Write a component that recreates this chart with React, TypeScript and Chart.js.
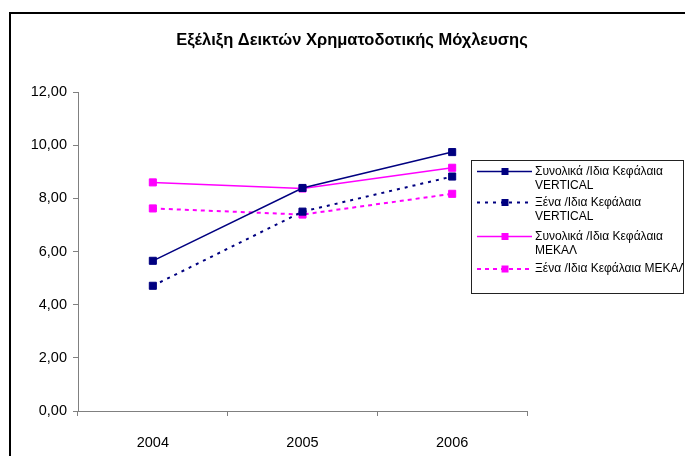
import React, { useEffect, useRef } from "react";
import { Chart, registerables } from "chart.js";

Chart.register(...registerables);

const chartTitle = "Εξέλιξη Δεικτών Χρηματοδοτικής Μόχλευσης";
const categories = ["2004", "2005", "2006"];
const seriesLabels = [
  ["Συνολικά /Ιδια Κεφάλαια", "VERTICAL"],
  ["Ξένα /Ιδια Κεφάλαια", "VERTICAL"],
  ["Συνολικά /Ιδια Κεφάλαια", "ΜΕΚΑΛ"],
  ["Ξένα /Ιδια Κεφάλαια ΜΕΚΑΛ"],
];
const totalVertical = [5.65, 8.39, 9.74];
const foreignVertical = [4.71, 7.5, 8.82];
const totalMekal = [8.6, 8.37, 9.15];
const foreignMekal = [7.62, 7.39, 8.17];
const yMin = 0;
const yMax = 12;
const yStep = 2;

const FONT = "'Liberation Sans', Arial, sans-serif";

const titlePlugin = {
  id: "customTitle",
  afterDraw(chart: any) {
    const ctx = chart.ctx;
    ctx.save();
    ctx.font = `bold 16.5px ${FONT}`;
    ctx.fillStyle = "#000";
    ctx.textAlign = "center";
    ctx.textBaseline = "middle";
    ctx.fillText(chartTitle, 352, 40);
    ctx.restore();
  },
};

const legendPlugin = {
  id: "customLegend",
  afterDraw(chart: any) {
    const ctx = chart.ctx;
    const box = { x: 471.5, y: 160.5, w: 212, h: 133 };
    const itemY = [171.5, 202.5, 236.5, 269];
    const lineGap = 14.5;
    ctx.save();
    ctx.fillStyle = "#fff";
    ctx.fillRect(box.x, box.y, box.w, box.h);
    ctx.strokeStyle = "#222";
    ctx.lineWidth = 1;
    ctx.strokeRect(box.x, box.y, box.w, box.h);
    ctx.beginPath();
    ctx.rect(box.x + 0.5, box.y + 0.5, box.w - 1, box.h - 1);
    ctx.clip();
    chart.data.datasets.forEach((ds: any, i: number) => {
      const y = itemY[i];
      ctx.save();
      ctx.strokeStyle = ds.borderColor;
      ctx.lineWidth = ds.borderWidth;
      ctx.setLineDash(ds.borderDash || []);
      ctx.beginPath();
      ctx.moveTo(477, y);
      ctx.lineTo(532, y);
      ctx.stroke();
      ctx.restore();
      ctx.fillStyle = ds.pointBackgroundColor;
      ctx.fillRect(505 - 3.5, y - 3.5, 7, 7);
      ctx.fillStyle = "#000";
      ctx.font = `12px ${FONT}`;
      ctx.textAlign = "left";
      ctx.textBaseline = "middle";
      seriesLabels[i].forEach((t, j) => {
        ctx.fillText(t, 535, y + j * lineGap);
      });
    });
    ctx.restore();
  },
};

export default function App() {
  const canvasRef = useRef<HTMLCanvasElement | null>(null);

  useEffect(() => {
    const canvas = canvasRef.current;
    if (!canvas) return;
    const mk = (label: string, data: number[], color: string, dash: number[] | undefined, width: number) => ({
      label,
      data,
      borderColor: color,
      backgroundColor: color,
      borderWidth: width,
      borderDash: dash,
      pointStyle: "rect",
      pointRadius: 5,
      pointBorderWidth: 1,
      pointBackgroundColor: color,
      pointBorderColor: color,
      tension: 0,
      fill: false,
    });
    const chart = new Chart(canvas, {
      type: "line",
      data: {
        labels: categories,
        datasets: [
          mk(seriesLabels[0].join(" "), totalVertical, "#000080", undefined, 1.5),
          mk(seriesLabels[1].join(" "), foreignVertical, "#000080", [3, 5], 2),
          mk(seriesLabels[2].join(" "), totalMekal, "#FF00FF", undefined, 1.5),
          mk(seriesLabels[3].join(" "), foreignMekal, "#FF00FF", [4, 4], 2),
        ] as any,
      },
      options: {
        animation: false,
        responsive: false,
        maintainAspectRatio: false,
        layout: { padding: { left: 0, top: 92, right: 158, bottom: 0 } },
        plugins: {
          legend: { display: false },
          title: { display: false },
          tooltip: { enabled: false },
        },
        scales: {
          x: {
            type: "category",
            offset: true,
            afterFit(scale: any) {
              scale.height = 45;
            },
            grid: {
              display: true,
              offset: true,
              drawOnChartArea: false,
              drawTicks: true,
              tickLength: 5,
              color: "#808080",
            },
            border: { display: true, color: "#808080", width: 1 },
            ticks: {
              color: "#000",
              padding: 18,
              font: { family: FONT, size: 14.5 },
              maxRotation: 0,
            },
          },
          y: {
            type: "linear",
            min: yMin,
            max: yMax,
            afterFit(scale: any) {
              scale.width = 78;
            },
            grid: {
              display: true,
              drawOnChartArea: false,
              drawTicks: true,
              tickLength: 5,
              color: "#808080",
            },
            border: { display: true, color: "#808080", width: 1 },
            ticks: {
              stepSize: yStep,
              color: "#000",
              padding: 6,
              font: { family: FONT, size: 14.5 },
              callback: (v: any) => Number(v).toFixed(2).replace(".", ","),
            },
          },
        },
      },
      plugins: [titlePlugin, legendPlugin],
    });
    return () => chart.destroy();
  }, []);

  return (
    <div
      style={{
        position: "fixed",
        left: 0,
        top: 0,
        width: 685,
        height: 456,
        overflow: "hidden",
        background: "#fff",
      }}
    >
      <div
        style={{
          position: "absolute",
          left: 9,
          top: 12,
          width: 720,
          height: 500,
          border: "2px solid #000",
        }}
      />
      <canvas
        ref={canvasRef}
        width={685}
        height={456}
        style={{ position: "absolute", left: 0, top: 0, width: 685, height: 456 }}
      />
    </div>
  );
}
